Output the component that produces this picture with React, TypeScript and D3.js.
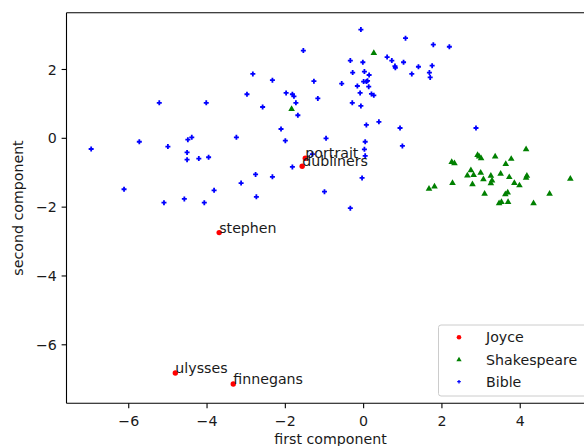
import React from "react";
import * as d3 from "d3";

// ---- data ----
const joyceLabels = ["portrait", "dubliners", "stephen", "ulysses", "finnegans"];
const joyceX = [-1.49, -1.57, -3.69, -4.81, -3.33];
const joyceY = [-0.58, -0.81, -2.74, -6.82, -7.14];

const shakespeareX = [
  -1.84, 0.26, 4.15, 2.91, 2.95, 3.0, 3.36, 3.77, 2.25, 2.32, 3.63, 2.74, 2.99, 2.65, 2.81,
  3.25, 3.5, 4.17, 4.15, 3.72, 5.28, 3.06, 3.28, 3.25, 3.85, 3.98, 2.27, 2.78, 1.81, 1.67,
  3.09, 3.68, 3.62, 4.75, 3.52, 3.46, 3.69, 4.34,
];
const shakespeareY = [
  0.85, 2.48, -0.32, -0.49, -0.53, -0.58, -0.53, -0.6, -0.69, -0.73, -0.75, -0.93, -1.0, -1.08,
  -1.07, -1.09, -1.03, -1.09, -1.15, -1.13, -1.18, -1.19, -1.23, -1.31, -1.3, -1.37, -1.3, -1.34,
  -1.4, -1.47, -1.61, -1.58, -1.63, -1.61, -1.85, -1.89, -1.85, -1.89,
];

const bibleX = [
  -1.54, -2.83, -2.33, -1.27, -5.22, -4.02, -2.98, -1.98, -1.82, -1.78, -1.73, -1.17, -2.58,
  -1.68, -2.11, -2.0, -3.25, -6.96, -5.73, -5.0, -4.49, -4.39, -4.51, -4.51, -4.21, -3.96,
  -1.82, -1.31, -2.76, -2.33, -3.13, -6.12, -3.82, -2.74, -5.1, -4.58, -4.07,
  -0.07, 1.07, 1.78, 2.19, -0.34, -0.02, 0.6, 0.72, 0.8, 0.81, 1.02, 1.4, 1.75, 1.23, 1.68,
  1.7, -0.28, 0.02, 0.14, -0.56, 0.0, 0.07, 0.1, -0.16, 0.13, -0.09, 0.2, 0.26, -0.29, -0.07,
  0.39, 0.07, 0.93, 2.87, -0.96, 0.04, 0.99, 0.02, 0.04, -0.04, -1.0, -0.34,
];
const bibleY = [
  2.55, 1.87, 1.69, 1.66, 1.03, 1.03, 1.28, 1.32, 1.28, 1.22, 1.03, 1.16, 0.91, 0.67, 0.27,
  -0.07, 0.03, -0.31, -0.1, -0.24, -0.04, 0.03, -0.41, -0.62, -0.59, -0.55, -0.83, -0.46,
  -1.05, -1.12, -1.3, -1.48, -1.51, -1.7, -1.87, -1.76, -1.87,
  3.16, 2.91, 2.72, 2.66, 2.26, 2.21, 2.36, 2.26, 2.1, 2.05, 2.21, 2.08, 2.11, 1.87, 1.91,
  1.77, 1.91, 1.94, 1.84, 1.59, 1.65, 1.65, 1.67, 1.52, 1.5, 1.32, 1.29, 1.25, 1.03, 0.94,
  0.48, 0.39, 0.3, 0.3, 0.0, -0.1, -0.22, -0.32, -0.51, -1.15, -1.55, -2.03,
];

const xTicks = [-6, -4, -2, 0, 2, 4];
const yTicks = [-6, -4, -2, 0, 2];
const legendNames = ["Joyce", "Shakespeare", "Bible"];
const xLabel = "first component";
const yLabel = "second component";

// ---- layout ----
const W = 584;
const H = 446;
const L = 66.5;
const R = 594.6;
const T = 12.7;
const B = 403.3;
const FONT = "'DejaVu Sans', sans-serif";
const FS = 14.2;

const fmt = (v: number) => (v < 0 ? "\u2212" + Math.abs(v) : String(v));

export default function App() {
  const x = d3.scaleLinear().domain([-7.59, 5.9]).range([L, R]);
  const y = d3.scaleLinear().domain([-7.7, 3.65]).range([B, T]);
  const tri = d3.symbol(d3.symbolTriangle, 19)() as string;
  const triSmall = d3.symbol(d3.symbolTriangle, 12)() as string;
  const plus = (s: number) => `M${-s},0H${s}M0,${-s}V${s}`;

  const lgX = 438.5;
  const lgTop = 325;
  const lgRows = [337.3, 359.8, 381.7];

  return (
    <svg
      width={W}
      height={H}
      style={{ position: "absolute", left: 0, top: 0, background: "#fff" }}
      fontFamily={FONT}
    >
      <rect width={W} height={H} fill="#fff" />
      {/* Joyce */}
      {joyceX.map((v, i) => (
        <circle key={"j" + i} cx={x(v)} cy={y(joyceY[i])} r={2.7} fill="#ff0000" />
      ))}
      {/* Shakespeare */}
      {shakespeareX.map((v, i) => (
        <path
          key={"s" + i}
          d={tri}
          transform={`translate(${x(v)},${y(shakespeareY[i])})`}
          fill="#008000"
        />
      ))}
      {/* Bible */}
      {bibleX.map((v, i) => (
        <path
          key={"b" + i}
          d={plus(2.5)}
          transform={`translate(${x(v)},${y(bibleY[i])})`}
          stroke="#0000ff"
          strokeWidth={1.8}
          fill="none"
        />
      ))}
      {/* annotations */}
      {joyceLabels.map((t, i) => (
        <text key={"t" + i} x={x(joyceX[i])} y={y(joyceY[i])} fontSize={FS} fill="#1a1a1a">
          {t}
        </text>
      ))}

      {/* spines */}
      <line x1={L} x2={L} y1={T} y2={B} stroke="#000" strokeWidth={1.1} />
      <line x1={L} x2={R} y1={B} y2={B} stroke="#000" strokeWidth={1.1} />
      <line x1={L} x2={R} y1={T} y2={T} stroke="#000" strokeWidth={1.1} />
      <line x1={R} x2={R} y1={T} y2={B} stroke="#000" strokeWidth={1.1} />

      {/* x ticks */}
      {xTicks.map((t) => (
        <g key={"xt" + t}>
          <line x1={x(t)} x2={x(t)} y1={B} y2={B + 4.9} stroke="#000" strokeWidth={1.1} />
          <text x={x(t)} y={B + 22.9} fontSize={FS} textAnchor="middle" fill="#1a1a1a">
            {fmt(t)}
          </text>
        </g>
      ))}
      {/* y ticks */}
      {yTicks.map((t) => (
        <g key={"yt" + t}>
          <line x1={L - 4.9} x2={L} y1={y(t)} y2={y(t)} stroke="#000" strokeWidth={1.1} />
          <text x={L - 9.7} y={y(t)} dy="0.36em" fontSize={FS} textAnchor="end" fill="#1a1a1a">
            {fmt(t)}
          </text>
        </g>
      ))}

      {/* axis labels */}
      <text x={(L + R) / 2} y={443.8} fontSize={FS} textAnchor="middle" fill="#1a1a1a">
        {xLabel}
      </text>
      <text
        transform={`translate(23.3,${(T + B) / 2}) rotate(-90)`}
        fontSize={FS}
        textAnchor="middle"
        fill="#1a1a1a"
      >
        {yLabel}
      </text>

      {/* legend */}
      <rect
        x={lgX}
        y={lgTop}
        width={R - 5.5 - lgX}
        height={71}
        rx={2.5}
        fill="#fff"
        fillOpacity={0.8}
        stroke="#cccccc"
        strokeWidth={1}
      />
      <circle cx={459} cy={lgRows[0]} r={2.3} fill="#ff0000" />
      <path d={triSmall} transform={`translate(459,${lgRows[1]})`} fill="#008000" />
      <path
        d={plus(1.8)}
        transform={`translate(459,${lgRows[2]})`}
        stroke="#0000ff"
        strokeWidth={1.3}
        fill="none"
      />
      {legendNames.map((n, i) => (
        <text key={"l" + i} x={486} y={lgRows[i]} dy="0.36em" fontSize={FS} fill="#1a1a1a">
          {n}
        </text>
      ))}
    </svg>
  );
}
